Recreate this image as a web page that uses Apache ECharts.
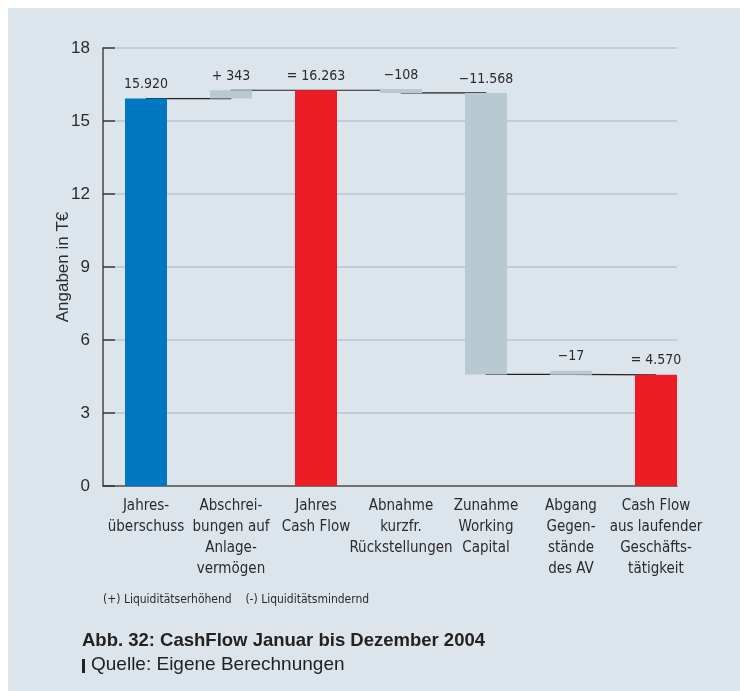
<!DOCTYPE html>
<html>
<head>
<meta charset="utf-8">
<script src="https://cdn.jsdelivr.net/npm/echarts@6/dist/echarts.min.js"></script>
<style>
  html, body { margin: 0; padding: 0; background: #fff; }
  #chart { width: 740px; height: 691px; }
</style>
</head>
<body>
<div id="chart"></div>
<script>
// categories (line breaks as in the original)
const categories = [
  'Jahres-\nüberschuss',
  'Abschrei-\nbungen auf\nAnlage-\nvermögen',
  'Jahres\nCash Flow',
  'Abnahme\nkurzfr.\nRückstellungen',
  'Zunahme\nWorking\nCapital',
  'Abgang\nGegen-\nstände\ndes AV',
  'Cash Flow\naus laufender\nGeschäfts-\ntätigkeit'
]
// values in T€ (thousand euro)
const deltas = [15.920, 0.343, 16.263, -0.108, -11.568, -0.017, 4.570]
const kinds = ['start', 'up', 'total', 'down', 'down', 'down', 'total']
const valueLabels = ['15.920', '+ 343', '= 16.263', '\u2212108', '\u221211.568', '\u221217', '= 4.570']
const yTicks = [0, 3, 6, 9, 12, 15, 18]

const colorOf = { start: '#0077c0', total: '#ee1c25', up: '#b8c9d1', down: '#b8c9d1' }

/* waterfall: invisible base + visible part, plus connector levels */
const bases = []
const heights = []
const levels = []
let running = 0
deltas.forEach((v, i) => {
  const k = kinds[i]
  if (k === 'start' || k === 'total') {
    bases.push(0); heights.push(v); running = v
  } else if (k === 'up') {
    bases.push(running); heights.push(v); running += v
  } else {
    running += v; bases.push(running); heights.push(-v)
  }
  levels.push(+running.toFixed(3))
})

const chart = echarts.init(document.getElementById('chart'), null, { renderer: 'canvas' })

const textColor = '#2b2b2b'
const narrow = '"Liberation Sans Narrow", "DejaVu Sans Condensed", sans-serif'
const regular = '"Liberation Sans", Arial, sans-serif'

const yMin = yTicks[0]
const yMax = yTicks[yTicks.length - 1]
const yStep = yTicks[1] - yTicks[0]

chart.setOption({
  backgroundColor: '#ffffff',
  animation: false,
  grid: [
    { left: 103, right: 63, top: 48, bottom: 205 },     // axis frame
    { left: 115, right: 63, top: 48, bottom: 205 },     // grid lines
    { left: 103.5, right: 41.5, top: 48, bottom: 205 }  // bars
  ],
  xAxis: [
    {
      gridIndex: 0, type: 'value', min: 0, max: 1,
      axisLine: { show: true, lineStyle: { color: '#555', width: 1.5 } },
      axisTick: { show: false }, axisLabel: { show: false }, splitLine: { show: false }
    },
    {
      gridIndex: 1, type: 'value', min: 0, max: 1, show: false
    },
    {
      gridIndex: 2, type: 'category', data: categories,
      axisLine: { show: false }, axisTick: { show: false },
      axisLabel: {
        interval: 0, margin: 10, color: textColor,
        fontFamily: narrow, fontSize: 15, lineHeight: 21
      }
    }
  ],
  yAxis: [
    {
      gridIndex: 0, type: 'value', min: yMin, max: yMax, interval: yStep,
      name: 'Angaben in T€', nameLocation: 'middle', nameGap: 31,
      nameMoveOverlap: false,
      nameTextStyle: { color: textColor, fontFamily: regular, fontSize: 17 },
      axisLine: { show: true, lineStyle: { color: '#444', width: 1.5 } },
      axisTick: { show: true, inside: true, length: 12, lineStyle: { color: '#333', width: 1.5 } },
      axisLabel: {
        color: textColor, fontFamily: regular, fontSize: 17, margin: 13,
        padding: [0, 0, 8, 0]
      },
      splitLine: { show: false }
    },
    {
      gridIndex: 1, type: 'value', min: yMin, max: yMax, interval: yStep,
      axisLine: { show: false }, axisTick: { show: false }, axisLabel: { show: false },
      splitLine: { show: true, lineStyle: { color: '#bfcdd6', width: 2 } }
    },
    {
      gridIndex: 2, type: 'value', min: yMin, max: yMax, show: false
    }
  ],
  series: [
    {
      type: 'line',
      xAxisIndex: 2, yAxisIndex: 2,
      step: 'end',
      data: levels,
      symbol: 'none',
      z: 1,
      lineStyle: { color: '#222', width: 1.2 }
    },
    {
      type: 'bar',
      xAxisIndex: 2, yAxisIndex: 2,
      stack: 'w',
      barWidth: 42,
      data: bases,
      itemStyle: { color: 'transparent' },
      silent: true,
      z: 3
    },
    {
      type: 'bar',
      xAxisIndex: 2, yAxisIndex: 2,
      stack: 'w',
      barWidth: 42,
      barMinHeight: 4,
      z: 3,
      data: heights.map((h, i) => ({
        value: h,
        itemStyle: { color: colorOf[kinds[i]] }
      })),
      label: {
        show: true,
        position: 'top',
        distance: 7,
        color: textColor,
        fontFamily: narrow,
        fontSize: 14,
        formatter: p => valueLabels[p.dataIndex]
      }
    }
  ],
  graphic: [
    {
      type: 'rect', z: -100, silent: true,
      shape: { x: 8, y: 8, width: 732, height: 683 },
      style: { fill: '#dde5ec' }
    },
    {
      type: 'text', left: 103, top: 594,
      style: {
        text: '(+) Liquiditätserhöhend    (-) Liquiditätsmindernd',
        fill: textColor, font: '12px ' + narrow
      }
    },
    {
      type: 'text', left: 82, top: 631,
      style: {
        text: 'Abb. 32: CashFlow Januar bis Dezember 2004',
        fill: '#222', font: 'bold 18.5px ' + regular
      }
    },
    {
      type: 'rect', shape: { x: 82, y: 659, width: 3, height: 14 },
      style: { fill: '#222' }
    },
    {
      type: 'text', left: 91, top: 655,
      style: {
        text: 'Quelle: Eigene Berechnungen',
        fill: '#222', font: '19px ' + regular
      }
    }
  ]
})
</script>
</body>
</html>
